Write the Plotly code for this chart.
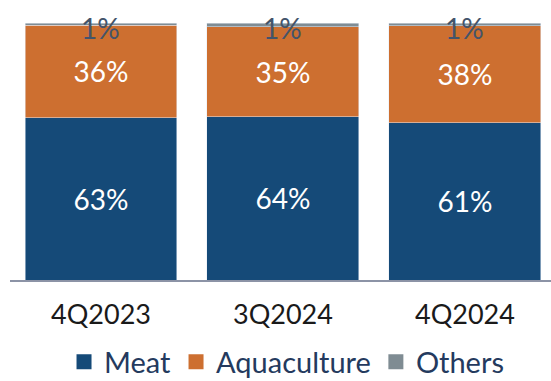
import plotly.graph_objects as go

categories = ["4Q2023", "3Q2024", "4Q2024"]
meat = [63.2, 63.6, 61.1]
aquaculture = [36.0, 34.9, 37.9]
others = [0.8, 1.5, 1.0]
meat_labels = ["63%", "64%", "61%"]
aqua_labels = ["36%", "35%", "38%"]
others_labels = ["1%", "1%", "1%"]
series_names = ["Meat", "Aquaculture", "Others"]

FONT = "Lato"
C_MEAT = "#154A78"
C_AQUA = "#CD6F30"
C_OTH = "#7F8C93"
colors = [C_MEAT, C_AQUA, C_OTH]

fig = go.Figure()
fig.add_trace(go.Bar(x=categories, y=meat, name="Meat", marker_color=C_MEAT,
                     text=meat_labels, textposition="inside", insidetextanchor="middle",
                     textfont=dict(color="white", size=28, family=FONT), width=0.835,
                     showlegend=False))
fig.add_trace(go.Bar(x=categories, y=aquaculture, name="Aquaculture", marker_color=C_AQUA,
                     text=aqua_labels, textposition="inside", insidetextanchor="middle",
                     textfont=dict(color="white", size=28, family=FONT), width=0.835,
                     showlegend=False))
fig.add_trace(go.Bar(x=categories, y=others, name="Others", marker_color=C_OTH,
                     textposition="none", width=0.835, showlegend=False))

# legend entries with larger square swatches
for n, col in zip(series_names, colors):
    fig.add_trace(go.Scatter(x=[None], y=[None], mode="markers", name=n,
                             marker=dict(symbol="square", size=15, color=col),
                             showlegend=True, hoverinfo="skip"))

for c, m, a, o, t in zip(categories, meat, aquaculture, others, others_labels):
    fig.add_annotation(x=c, y=m + a + o, text=t, showarrow=False, yanchor="middle",
                       yshift=-5, font=dict(color="#44546A", size=28, family=FONT))

fig.update_layout(
    barmode="stack",
    width=551, height=381,
    margin=dict(l=10, r=0, t=23, b=101),
    paper_bgcolor="white", plot_bgcolor="white",
    showlegend=True,
    legend=dict(orientation="h", x=0.52, xanchor="center", xref="container",
                y=0.05, yanchor="middle", yref="container",
                font=dict(size=29, family=FONT, color="#243A5E"), traceorder="normal",
                itemwidth=30),
    xaxis=dict(range=[-0.5, 2.473], showline=True, linecolor="#8C93A6", linewidth=1.5,
               tickfont=dict(size=27, family=FONT, color="#1a1a1a"), ticks="",
               ticklabelstandoff=10, automargin=False),
    yaxis=dict(range=[0, 100], visible=False, showgrid=False, automargin=False),
    uniformtext=dict(mode=False),
)
fig.write_html("out.html")
